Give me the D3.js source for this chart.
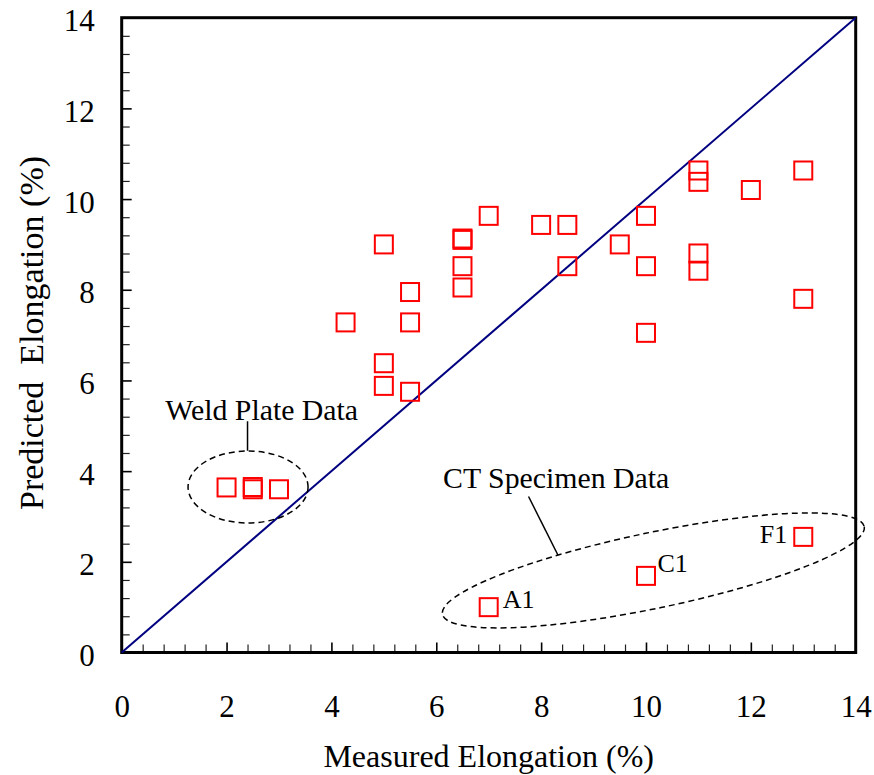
<!DOCTYPE html>
<html>
<head>
<meta charset="utf-8">
<script src="https://cdn.jsdelivr.net/npm/d3@7/dist/d3.min.js"></script>
<style>
  html, body { margin: 0; padding: 0; background: #fff; }
  svg text { font-family: "Liberation Serif", "Times New Roman", serif; fill: #000; }
</style>
</head>
<body>
<svg id="chart" width="874" height="775"></svg>
<script>
// Measured vs predicted elongation (%)
const measured  = [2, 2.5, 2.5, 3, 4.27, 5, 5, 5, 5.5, 5.5, 5.5, 6.5, 6.5, 6.5, 6.5, 7, 8, 8.5, 8.5, 9.5, 10, 10, 10, 11, 11, 11, 11, 12, 13, 13];
const predicted = [3.64, 3.65, 3.6, 3.6, 7.28, 9.0, 6.38, 5.88, 7.95, 7.28, 5.75, 9.1, 9.13, 8.52, 8.05, 9.63, 9.43, 9.43, 8.52, 9.0, 9.63, 8.52, 7.05, 10.63, 10.38, 8.8, 8.42, 10.2, 10.63, 7.8];

// CT specimen results
const ctNames     = ["A1", "C1", "F1"];
const ctMeasured  = [7, 10, 13];
const ctPredicted = [1.0, 1.69, 2.55];

const majorTicks = [0, 2, 4, 6, 8, 10, 12, 14];
const minorTicks = d3.range(0, 14.001, 0.4).map(v => +v.toFixed(1));

const margin = { left: 121.7, top: 17.7, right: 874 - 855.7, bottom: 775 - 652.5 };
const W = 874 - margin.left - margin.right;
const H = 775 - margin.top - margin.bottom;

const svg = d3.select("#chart");
const g = svg.append("g").attr("transform", `translate(${margin.left},${margin.top})`);

const x = d3.scaleLinear().domain([0, 14]).range([0, W]);
const y = d3.scaleLinear().domain([0, 14]).range([H, 0]);

// inward minor ticks
g.append("g").attr("transform", `translate(0,${H})`)
  .call(d3.axisBottom(x).tickValues(minorTicks.filter(v => !majorTicks.includes(v))).tickSize(-8).tickFormat(""))
  .call(a => a.select(".domain").remove())
  .call(a => a.selectAll("line").attr("stroke", "#222").attr("stroke-width", 1.2));
g.append("g")
  .call(d3.axisLeft(y).tickValues(minorTicks.filter(v => !majorTicks.includes(v))).tickSize(-8).tickFormat(""))
  .call(a => a.select(".domain").remove())
  .call(a => a.selectAll("line").attr("stroke", "#222").attr("stroke-width", 1.2));

// major ticks with labels
const xAxis = g.append("g").attr("transform", `translate(0,${H})`)
  .call(d3.axisBottom(x).tickValues(majorTicks).tickSize(-10).tickPadding(0).tickFormat(d3.format("d")));
xAxis.select(".domain").remove();
xAxis.selectAll("line").attr("stroke", "#000").attr("stroke-width", 1.6);
xAxis.selectAll("text").attr("y", 64).attr("dy", 0).style("font-size", "31px").attr("font-family", null);

const yAxis = g.append("g")
  .call(d3.axisLeft(y).tickValues(majorTicks).tickSize(-10).tickPadding(0).tickFormat(d3.format("d")));
yAxis.select(".domain").remove();
yAxis.selectAll("line").attr("stroke", "#000").attr("stroke-width", 1.6);
yAxis.selectAll("text").attr("x", -27).attr("dy", "0.42em").style("font-size", "31px").attr("font-family", null);

// frame
g.append("rect").attr("x", 0).attr("y", 0).attr("width", W).attr("height", H)
  .attr("fill", "none").attr("stroke", "#000").attr("stroke-width", 3);

// 1:1 line
g.append("line")
  .attr("x1", x(0)).attr("y1", y(0)).attr("x2", x(14)).attr("y2", y(14))
  .attr("stroke", "#000080").attr("stroke-width", 2);

// markers
const side = 18;
const pts = measured.map((m, i) => ({ m, p: predicted[i] }))
  .concat(ctNames.map((n, i) => ({ m: ctMeasured[i], p: ctPredicted[i] })));
g.append("g").selectAll("rect").data(pts).join("rect")
  .attr("x", d => x(d.m) - side / 2).attr("y", d => y(d.p) - side / 2)
  .attr("width", side).attr("height", side)
  .attr("fill", "none").attr("stroke", "#ff0000").attr("stroke-width", 2);

// CT point labels
const ctOffsets = { A1: [14, 1, "start"], C1: [11.5, -4.3, "start"], F1: [-16, 6.3, "end"] };
g.append("g").selectAll("text").data(ctNames).join("text")
  .attr("x", (n, i) => x(ctMeasured[i]) + ctOffsets[n][0])
  .attr("y", (n, i) => y(ctPredicted[i]) + ctOffsets[n][1])
  .attr("text-anchor", n => ctOffsets[n][2])
  .style("font-size", "26px")
  .text(n => n);

// group outlines
const dash = "6,4";
g.append("ellipse")
  .attr("cx", x(2.41)).attr("cy", y(3.65)).attr("rx", 60).attr("ry", 36)
  .attr("fill", "none").attr("stroke", "#000").attr("stroke-width", 1.5).attr("stroke-dasharray", dash);
g.append("ellipse")
  .attr("transform", `translate(${x(10.14)},${y(1.81)}) rotate(-11.76)`)
  .attr("rx", 215.4).attr("ry", 37.9)
  .attr("fill", "none").attr("stroke", "#000").attr("stroke-width", 1.5).attr("stroke-dasharray", dash);

// group captions with leaders
g.append("text").attr("x", x(0.83)).attr("y", y(5.13)).style("font-size", "29.8px").text("Weld Plate Data");
g.append("line").attr("x1", x(2.4)).attr("y1", y(5.1)).attr("x2", x(2.4)).attr("y2", y(4.45))
  .attr("stroke", "#000").attr("stroke-width", 1.5);
g.append("text").attr("x", x(6.13)).attr("y", y(3.62)).style("font-size", "29.8px").text("CT Specimen Data");
g.append("line").attr("x1", x(7.76)).attr("y1", y(3.44)).attr("x2", x(8.32)).attr("y2", y(2.15))
  .attr("stroke", "#000").attr("stroke-width", 1.5);

// axis titles
svg.append("text").attr("x", margin.left + W / 2).attr("y", 766.7)
  .attr("text-anchor", "middle").style("font-size", "32px").text("Measured Elongation (%)");
svg.append("text").attr("transform", `translate(43,333) rotate(-90)`)
  .attr("text-anchor", "middle").style("font-size", "34px").style("white-space", "pre")
  .text("Predicted  Elongation (%)");
</script>
</body>
</html>
